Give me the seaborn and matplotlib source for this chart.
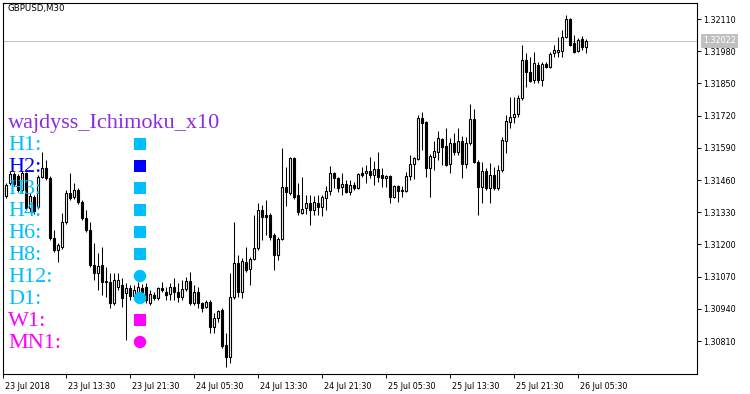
import numpy as np
import pandas as pd
import matplotlib
matplotlib.use("Agg")
import matplotlib.pyplot as plt
import matplotlib.transforms as mtransforms
import seaborn as sns

# ---------------- data ----------------
symbol_title = "GBPUSD,M30"
indicator_title = "wajdyss_Ichimoku_x10"
tf_labels = ["H1:", "H2:", "H3:", "H4:", "H6:", "H8:", "H12:", "D1:", "W1:", "MN1:"]
tf_colors = ["#00BFFF", "#0000FF", "#00BFFF", "#00BFFF", "#00BFFF", "#00BFFF",
             "#00BFFF", "#00BFFF", "#FF00FF", "#FF00FF"]
tf_markers = ["s", "s", "s", "s", "s", "s", "o", "o", "s", "o"]

time_labels = ["23 Jul 2018", "23 Jul 13:30", "23 Jul 21:30", "24 Jul 05:30", "24 Jul 13:30",
               "24 Jul 21:30", "25 Jul 05:30", "25 Jul 13:30", "25 Jul 21:30", "26 Jul 05:30"]
time_label_bars = [-0.75, 15, 31, 47, 63, 79, 95, 111, 127, 143]
price_ticks = [1.30810, 1.30940, 1.31070, 1.31200, 1.31330, 1.31460, 1.31590,
               1.31720, 1.31850, 1.31980, 1.32110]
current_price = 1.32022

opens = [1.31428, 1.31396, 1.31448, 1.31485, 1.31477, 1.31420, 1.31489, 1.31348, 1.31392, 1.31352,
         1.31473, 1.31509, 1.31468, 1.31226, 1.31178, 1.31190, 1.31291, 1.31408, 1.31392, 1.31420,
         1.31372, 1.31307, 1.31259, 1.31117, 1.31085, 1.31117, 1.31049, 1.31049, 1.30964, 1.31028,
         1.31036, 1.31004, 1.31024, 1.30992, 1.31004, 1.31024, 1.31028, 1.30964, 1.30996, 1.30984,
         1.31024, 1.31008, 1.31000, 1.31028, 1.31008, 1.30988, 1.31020, 1.31053, 1.30964, 1.31008,
         1.30964, 1.30948, 1.30968, 1.30867, 1.30903, 1.30936, 1.30794, 1.30746, 1.30988, 1.31125,
         1.31008, 1.31129, 1.31101, 1.31142, 1.31186, 1.31339, 1.31319, 1.31319, 1.31239, 1.31158,
         1.31222, 1.31432, 1.31408, 1.31549, 1.31400, 1.31327, 1.31348, 1.31368, 1.31339, 1.31368,
         1.31352, 1.31388, 1.31416, 1.31489, 1.31468, 1.31432, 1.31444, 1.31412, 1.31440, 1.31428,
         1.31489, 1.31489, 1.31497, 1.31481, 1.31505, 1.31481, 1.31468, 1.31477, 1.31392, 1.31436,
         1.31416, 1.31416, 1.31477, 1.31525, 1.31545, 1.31711, 1.31694, 1.31509, 1.31553, 1.31573,
         1.31626, 1.31598, 1.31525, 1.31610, 1.31573, 1.31618, 1.31525, 1.31610, 1.31707, 1.31533,
         1.31432, 1.31497, 1.31428, 1.31481, 1.31428, 1.31501, 1.31618, 1.31694, 1.31715, 1.31727,
         1.31791, 1.31945, 1.31896, 1.31864, 1.31925, 1.31864, 1.31929, 1.31916, 1.31973, 1.31977,
         1.31981, 1.32038, 1.32110, 1.32013, 1.31981, 1.32030, 1.31997]

highs = [1.31436, 1.31448, 1.31497, 1.31493, 1.31485, 1.31497, 1.31493, 1.31408, 1.31400, 1.31481,
         1.31573, 1.31541, 1.31477, 1.31259, 1.31206, 1.31327, 1.31420, 1.31489, 1.31448, 1.31428,
         1.31380, 1.31339, 1.31291, 1.31206, 1.31166, 1.31190, 1.31109, 1.31085, 1.31085, 1.31085,
         1.31065, 1.31045, 1.31036, 1.31036, 1.31049, 1.31041, 1.31045, 1.31016, 1.31008, 1.31028,
         1.31049, 1.31028, 1.31045, 1.31065, 1.31045, 1.31057, 1.31069, 1.31089, 1.31036, 1.31028,
         1.30968, 1.30976, 1.30976, 1.30924, 1.30936, 1.30944, 1.30843, 1.31085, 1.31291, 1.31158,
         1.31146, 1.31190, 1.31150, 1.31319, 1.31368, 1.31360, 1.31380, 1.31327, 1.31247, 1.31230,
         1.31590, 1.31513, 1.31553, 1.31553, 1.31448, 1.31473, 1.31400, 1.31400, 1.31396, 1.31400,
         1.31400, 1.31436, 1.31517, 1.31493, 1.31473, 1.31489, 1.31460, 1.31460, 1.31452, 1.31489,
         1.31513, 1.31521, 1.31553, 1.31537, 1.31573, 1.31509, 1.31481, 1.31481, 1.31440, 1.31440,
         1.31436, 1.31493, 1.31561, 1.31553, 1.31723, 1.31735, 1.31698, 1.31565, 1.31618, 1.31658,
         1.31630, 1.31670, 1.31630, 1.31650, 1.31670, 1.31638, 1.31634, 1.31767, 1.31747, 1.31541,
         1.31533, 1.31509, 1.31529, 1.31513, 1.31521, 1.31634, 1.31723, 1.31795, 1.31795, 1.31803,
         1.32005, 1.31973, 1.31957, 1.31977, 1.31937, 1.31937, 1.31937, 1.31977, 1.32005, 1.32038,
         1.32066, 1.32126, 1.32114, 1.32046, 1.32034, 1.32042, 1.32030]

lows = [1.31392, 1.31388, 1.31440, 1.31436, 1.31412, 1.31412, 1.31339, 1.31331, 1.31323, 1.31344,
        1.31468, 1.31460, 1.31218, 1.31170, 1.31129, 1.31182, 1.31283, 1.31380, 1.31384, 1.31364,
        1.31299, 1.31251, 1.31109, 1.31057, 1.31016, 1.30996, 1.30988, 1.30944, 1.30956, 1.31016,
        1.30948, 1.30814, 1.30976, 1.30984, 1.30988, 1.30992, 1.30964, 1.30956, 1.30976, 1.30976,
        1.31008, 1.30976, 1.30976, 1.30976, 1.30968, 1.30976, 1.31012, 1.30956, 1.30956, 1.30944,
        1.30928, 1.30944, 1.30843, 1.30843, 1.30887, 1.30782, 1.30705, 1.30722, 1.30980, 1.30988,
        1.30984, 1.31089, 1.31036, 1.31137, 1.31178, 1.31218, 1.31239, 1.31218, 1.31097, 1.31137,
        1.31218, 1.31356, 1.31400, 1.31384, 1.31319, 1.31323, 1.31323, 1.31279, 1.31319, 1.31319,
        1.31315, 1.31339, 1.31400, 1.31428, 1.31412, 1.31400, 1.31408, 1.31400, 1.31420, 1.31424,
        1.31473, 1.31448, 1.31468, 1.31440, 1.31452, 1.31432, 1.31432, 1.31368, 1.31388, 1.31372,
        1.31392, 1.31412, 1.31460, 1.31464, 1.31541, 1.31581, 1.31473, 1.31392, 1.31501, 1.31541,
        1.31521, 1.31517, 1.31489, 1.31561, 1.31561, 1.31468, 1.31509, 1.31602, 1.31529, 1.31319,
        1.31368, 1.31420, 1.31368, 1.31420, 1.31420, 1.31493, 1.31569, 1.31670, 1.31690, 1.31715,
        1.31783, 1.31836, 1.31856, 1.31852, 1.31852, 1.31840, 1.31912, 1.31912, 1.31957, 1.31957,
        1.31957, 1.32034, 1.32001, 1.31973, 1.31977, 1.31985, 1.31973]

closes = [1.31400, 1.31440, 1.31485, 1.31444, 1.31420, 1.31489, 1.31348, 1.31396, 1.31335, 1.31473,
          1.31509, 1.31468, 1.31226, 1.31178, 1.31198, 1.31291, 1.31408, 1.31388, 1.31420, 1.31372,
          1.31307, 1.31259, 1.31117, 1.31085, 1.31113, 1.31049, 1.31053, 1.30964, 1.31057, 1.31057,
          1.30984, 1.31024, 1.30992, 1.31016, 1.31028, 1.31004, 1.30976, 1.31000, 1.30984, 1.31024,
          1.31016, 1.30996, 1.31028, 1.31008, 1.30988, 1.31020, 1.31053, 1.30964, 1.31008, 1.30964,
          1.30944, 1.30968, 1.30867, 1.30903, 1.30932, 1.30790, 1.30746, 1.30988, 1.31125, 1.31008,
          1.31133, 1.31097, 1.31142, 1.31186, 1.31339, 1.31311, 1.31311, 1.31230, 1.31158, 1.31222,
          1.31432, 1.31412, 1.31549, 1.31392, 1.31331, 1.31344, 1.31368, 1.31339, 1.31372, 1.31352,
          1.31392, 1.31416, 1.31489, 1.31468, 1.31428, 1.31444, 1.31412, 1.31440, 1.31428, 1.31485,
          1.31481, 1.31497, 1.31481, 1.31505, 1.31473, 1.31468, 1.31477, 1.31392, 1.31436, 1.31416,
          1.31420, 1.31477, 1.31525, 1.31549, 1.31711, 1.31690, 1.31509, 1.31557, 1.31577, 1.31630,
          1.31594, 1.31521, 1.31610, 1.31573, 1.31618, 1.31525, 1.31610, 1.31707, 1.31533, 1.31432,
          1.31497, 1.31428, 1.31481, 1.31428, 1.31501, 1.31622, 1.31698, 1.31715, 1.31727, 1.31791,
          1.31945, 1.31896, 1.31860, 1.31933, 1.31864, 1.31929, 1.31916, 1.31969, 1.31985, 1.31985,
          1.32038, 1.32110, 1.32005, 1.31977, 1.32026, 1.31997, 1.32022]

# ---------------- figure ----------------
sns.set_style("white")
plt.rcParams["font.family"] = ["DejaVu Sans"]

W, H = 750, 394
fig = plt.figure(figsize=(W / 100, H / 100), dpi=100)
fig.patch.set_facecolor("white")
ax = fig.add_axes([3 / W, 1 - 374 / H, 694 / W, 371 / H])

df = pd.DataFrame({"bar": np.arange(len(opens)) - 1, "open": opens, "high": highs,
                   "low": lows, "close": closes})
df["bull"] = df["close"] >= df["open"]
body_bottom = np.minimum(df["open"], df["close"])
body_height = np.maximum(np.abs(df["close"] - df["open"]), 0.000012)

ax.axhline(current_price, color="#c0c0c0", lw=0.7, zorder=1)
ax.vlines(df["bar"], df["low"], df["high"], color="black", lw=0.75, zorder=2)
ax.bar(df["bar"], body_height, bottom=body_bottom, width=0.58,
       color=np.where(df["bull"], "white", "black"), edgecolor="black", lw=0.8,
       zorder=3)

ax.set_xlim(-0.75, 172.75)
ax.set_ylim(1.306769, 1.321746)

ax.yaxis.tick_right()
ax.set_yticks(price_ticks)
ax.set_yticklabels([f"{p:.5f}" for p in price_ticks])
ax.tick_params(axis="y", direction="out", length=3, width=0.7, pad=1.4,
               labelsize=5.8, colors="black", right=True, left=False)
ax.set_xticks(time_label_bars)
ax.set_xticklabels(time_labels)
ax.tick_params(axis="x", direction="out", length=3, width=0.7, pad=2.5,
               labelsize=5.8, colors="black", bottom=True)
offset = mtransforms.ScaledTranslation(2 / 100, 0, fig.dpi_scale_trans)
for lbl in ax.get_xticklabels():
    lbl.set_horizontalalignment("left")
    lbl.set_transform(lbl.get_transform() + offset)
for s in ax.spines.values():
    s.set_color("black")
    s.set_linewidth(0.8)
    s.set_visible(True)
ax.set_xlabel("")
ax.set_ylabel("")

ax.annotate(f"{current_price:.5f}", xy=(1, current_price), xycoords=ax.get_yaxis_transform(),
            xytext=(4.3, 0), textcoords="offset points", ha="left", va="center",
            color="white", fontsize=5.8,
            bbox=dict(boxstyle="square,pad=0.3", fc="#c0c0c0", ec="none"))

fig.text(7 / W, 1 - 9 / H, symbol_title, fontsize=6.2, color="black", va="center", ha="left")

# ---------------- indicator overlay ----------------
ov = fig.add_axes([0, 0, 1, 1], zorder=5)
ov.patch.set_alpha(0)
rows = np.arange(len(tf_labels))
mk = pd.DataFrame({"label": tf_labels, "x": 140.0, "y": 144.0 + 22.0 * rows})
sns.scatterplot(data=mk, x="x", y="y", hue="label", style="label",
                palette=dict(zip(tf_labels, tf_colors)),
                markers=dict(zip(tf_labels, tf_markers)),
                s=80, linewidth=0, legend=False, ax=ov, zorder=6)
ov.set_xlim(0, W)
ov.set_ylim(H, 0)
ov.axis("off")

serif = ["Liberation Serif", "DejaVu Serif"]
ov.text(8, 128, indicator_title, family=serif, fontsize=16, color="#8A2BE2",
        va="baseline", ha="left")
for i, (lab, col) in enumerate(zip(tf_labels, tf_colors)):
    ov.text(8, 150 + 22 * i, lab, family=serif, fontsize=16, color=col,
            va="baseline", ha="left")

fig.savefig("out.png", dpi=100)
